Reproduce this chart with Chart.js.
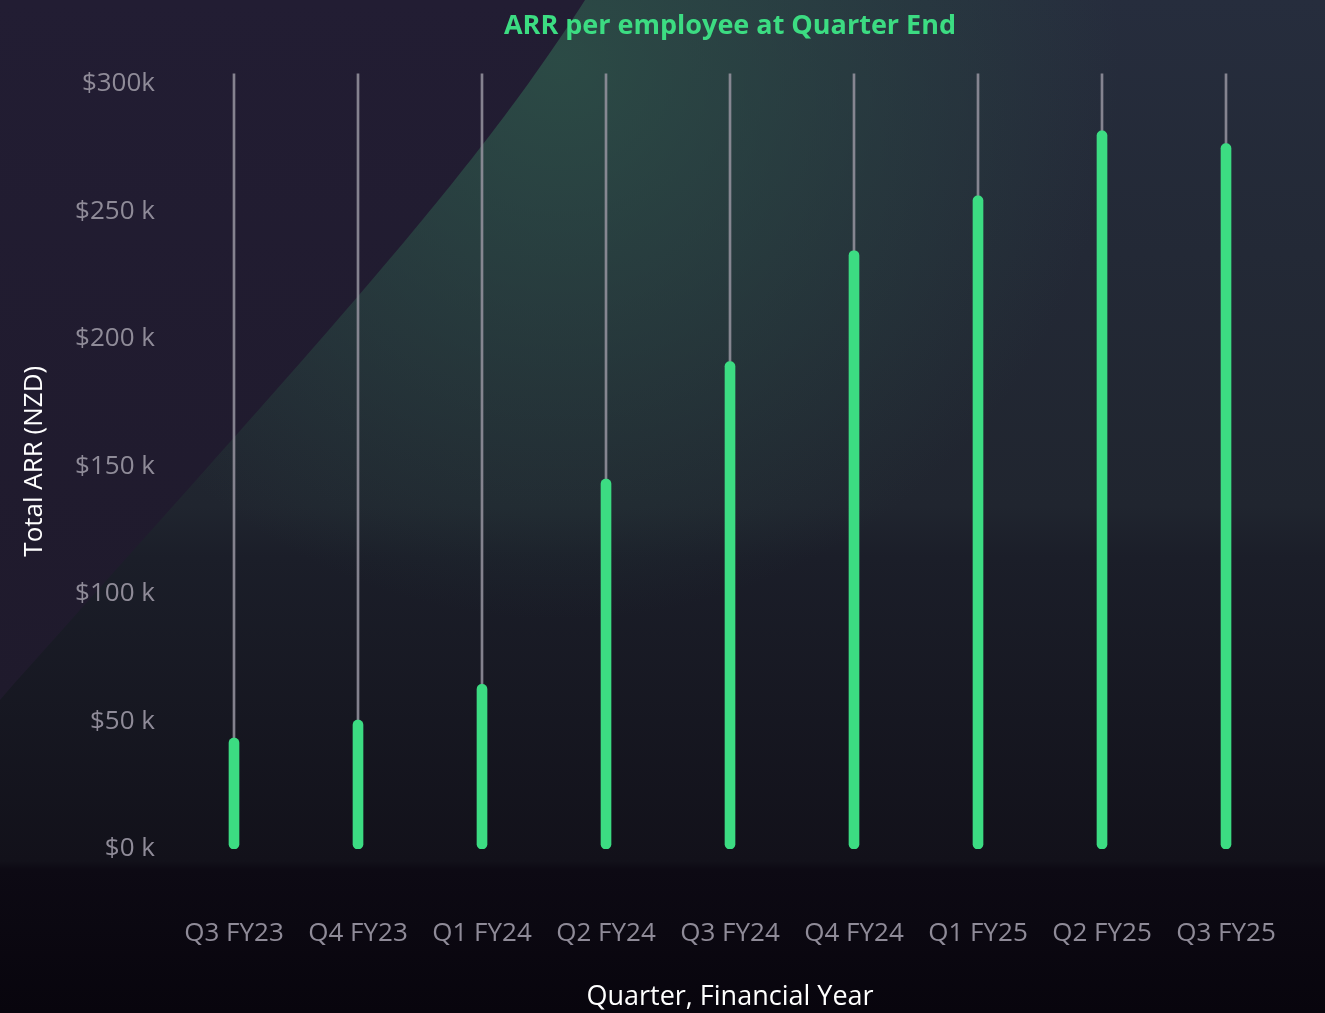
<!DOCTYPE html>
<html>
<head>
<meta charset="utf-8">
<script src="https://cdn.jsdelivr.net/npm/chart.js@4.4.1/dist/chart.umd.min.js"></script>
<style>
  html, body { margin: 0; padding: 0; background: #0b0812; overflow: hidden; }
  #wrap { width: 1325px; height: 1013px; }
</style>
</head>
<body>
<div id="wrap"><canvas id="arrChart"></canvas></div>
<script>
// data
const quarters = ['Q3 FY23', 'Q4 FY23', 'Q1 FY24', 'Q2 FY24', 'Q3 FY24', 'Q4 FY24', 'Q1 FY25', 'Q2 FY25', 'Q3 FY25'];
const arrPerEmployee = [43.5, 50.5, 64.5, 145, 191, 234.5, 256, 281.5, 276.5]; // $k
const trackTop = [304, 304, 304, 304, 304, 304, 304, 304, 304]; // thin grey guide lines
const yTickValues = [0, 50, 100, 150, 200, 250, 300];
const yTickLabels = ['$0 k', '$50 k', '$100 k', '$150 k', '$200 k', '$250 k', '$300k'];

const GREEN = '#3cdc82';
const FONT = "'Open Sans', sans-serif";

// page backdrop: dark gradient with the purple sweep on the left
const backdrop = {
    id: 'backdrop',
    beforeDraw(chart) {
        const { ctx, width, height } = chart;
        ctx.save();
        let g = ctx.createLinearGradient(0, 0, 0, height);
        g.addColorStop(0, '#262d3d');
        g.addColorStop(0.5, '#20252f');
        g.addColorStop(0.55, '#1b1e29');
        g.addColorStop(0.85, '#12111a');
        g.addColorStop(0.858, '#0d0a14');
        g.addColorStop(1, '#08050d');
        ctx.fillStyle = g;
        ctx.fillRect(0, 0, width, height);

        // teal glow along the sweep
        const rg = ctx.createRadialGradient(560, 60, 0, 560, 60, 560);
        rg.addColorStop(0, 'rgba(45,82,72,0.8)');
        rg.addColorStop(1, 'rgba(45,82,72,0)');
        ctx.fillStyle = rg;
        ctx.fillRect(0, 0, width, 865);

        // purple region left of the curve
        ctx.beginPath();
        ctx.moveTo(0, 0);
        ctx.lineTo(585, 0);
        ctx.bezierCurveTo(470, 180, 330, 330, 0, 700);
        ctx.closePath();
        const pg = ctx.createLinearGradient(0, 0, 0, 700);
        pg.addColorStop(0, '#221d33');
        pg.addColorStop(1, '#1f1a2c');
        ctx.fillStyle = pg;
        ctx.fill();
        ctx.restore();
    }
};

new Chart(document.getElementById('arrChart'), {
    type: 'bar',
    data: {
        labels: quarters,
        datasets: [
            {
                label: 'ARR per employee',
                data: arrPerEmployee,
                backgroundColor: GREEN,
                barThickness: 10,
                borderRadius: 5,
                borderSkipped: false,
                grouped: false,
                order: 1
            },
            {
                label: 'track',
                data: trackTop,
                backgroundColor: 'rgba(150,148,160,0.85)',
                barThickness: 2,
                grouped: false,
                order: 2
            }
        ]
    },
    options: {
        responsive: true,
        maintainAspectRatio: false,
        animation: false,
        layout: { padding: { top: 10, right: 37, bottom: 0, left: 0 } },
        plugins: {
            legend: { display: false },
            tooltip: { enabled: false },
            title: {
                display: true,
                text: 'ARR per employee at Quarter End',
                color: GREEN,
                fullSize: false,
                font: { family: FONT, size: 27, weight: 'bold' },
                padding: { top: 0, bottom: 31 }
            }
        },
        scales: {
            x: {
                grid: { display: false },
                border: { display: false },
                afterFit(axis) {
                    axis.height = 164;
                    axis.paddingLeft = 0;
                    axis.paddingRight = 0;
                },
                ticks: {
                    color: '#8f8b98',
                    font: { family: FONT, size: 26 },
                    padding: 61,
                    maxRotation: 0
                },
                title: {
                    display: true,
                    text: 'Quarter, Financial Year',
                    color: '#ffffff',
                    font: { family: FONT, size: 27, lineHeight: 1.0 },
                    padding: { top: 0, bottom: 2 }
                }
            },
            y: {
                min: 0,
                max: 304,
                grid: { display: false },
                border: { display: false },
                afterFit(axis) { axis.width = 172; },
                afterBuildTicks(axis) {
                    axis.ticks = yTickValues.map(v => ({ value: v }));
                },
                ticks: {
                    color: '#8f8b98',
                    font: { family: FONT, size: 26 },
                    padding: 9,
                    callback: (v) => yTickLabels[yTickValues.indexOf(v)]
                },
                title: {
                    display: true,
                    text: 'Total ARR (NZD)',
                    color: '#ffffff',
                    font: { family: FONT, size: 26 },
                    padding: { top: 19, bottom: 0 }
                }
            }
        }
    },
    plugins: [backdrop]
});
</script>
</body>
</html>
